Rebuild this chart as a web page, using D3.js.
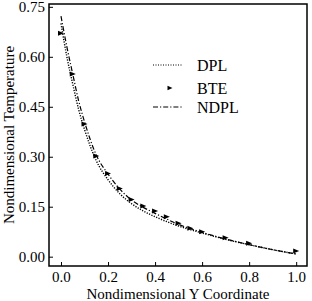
<!DOCTYPE html>
<html>
<head>
<meta charset="utf-8">
<script src="https://cdn.jsdelivr.net/npm/d3@7"></script>
<style>
body { margin: 0; background: #fff; }
text { font-family: "Liberation Serif", "Times New Roman", serif; fill: #000; }
</style>
</head>
<body>
<script>
// values
var xTicks = [0.0, 0.2, 0.4, 0.6, 0.8, 1.0];
var yTicks = [0.00, 0.15, 0.30, 0.45, 0.60, 0.75];

var curveX = [0, 0.025, 0.05, 0.075, 0.1, 0.15, 0.2, 0.25, 0.3, 0.35, 0.4, 0.5, 0.6, 0.7, 0.8, 0.9, 1.0];
var ndpl = [0.722, 0.630, 0.548, 0.468, 0.405, 0.305, 0.248, 0.203, 0.170, 0.148, 0.130, 0.097, 0.073, 0.053, 0.036, 0.021, 0.008];
var dpl = [0.700, 0.600, 0.518, 0.442, 0.382, 0.288, 0.231, 0.189, 0.159, 0.137, 0.120, 0.092, 0.071, 0.052, 0.036, 0.021, 0.008];

var bteX = [0, 0.05, 0.1, 0.15, 0.2, 0.25, 0.3, 0.35, 0.4, 0.45, 0.5, 0.55, 0.6, 0.7, 0.8, 1.0];
var bteY = [0.671, 0.548, 0.398, 0.302, 0.250, 0.205, 0.172, 0.152, 0.137, 0.120, 0.100, 0.085, 0.075, 0.057, 0.040, 0.017];

var legendNames = ["DPL", "BTE", "NDPL"];

var width = 312, height = 301;
var mLeft = 49, mRight = 307, mTop = 4, mBottom = 266;

var svg = d3.select("body")
    .append("svg")
    .attr("width", width)
    .attr("height", height);

var x = d3.scaleLinear().domain([-0.051, 1.046]).range([mLeft, mRight]);
var y = d3.scaleLinear().domain([-0.028, 0.7585]).range([mBottom, mTop]);

// axes with inward ticks
svg.append("g")
    .attr("transform", "translate(0," + mBottom + ")")
    .call(d3.axisBottom(x).tickValues(xTicks).tickFormat(d3.format(".1f")).tickSizeInner(-4).tickSizeOuter(0).tickPadding(5));

svg.append("g")
    .attr("transform", "translate(" + mLeft + ",0)")
    .call(d3.axisLeft(y).tickValues(yTicks).tickFormat(d3.format(".2f")).tickSizeInner(-4).tickSizeOuter(0).tickPadding(4));

svg.selectAll(".domain").remove();
svg.selectAll(".tick line").attr("stroke", "#000").attr("stroke-width", 1);
svg.selectAll(".tick text")
    .attr("font-family", "Liberation Serif")
    .attr("font-size", "15px")
    .attr("fill", "#000");

// frame
svg.append("rect")
    .attr("x", mLeft)
    .attr("y", mTop)
    .attr("width", mRight - mLeft)
    .attr("height", mBottom - mTop)
    .attr("fill", "none")
    .attr("stroke", "#000")
    .attr("stroke-width", 1.5);

var line = d3.line()
    .x(function(d) { return x(d[0]); })
    .y(function(d) { return y(d[1]); })
    .curve(d3.curveMonotoneX);

svg.append("path")
    .datum(d3.zip(curveX, dpl))
    .attr("d", line)
    .attr("fill", "none")
    .attr("stroke", "#000")
    .attr("stroke-width", 1.4)
    .attr("stroke-dasharray", "1.2,1.4");

svg.append("path")
    .datum(d3.zip(curveX, ndpl))
    .attr("d", line)
    .attr("fill", "none")
    .attr("stroke", "#000")
    .attr("stroke-width", 1.2)
    .attr("stroke-dasharray", "5,2,1.2,2");

var tri = "M-3,-2.5L3,0L-3,2.5Z";

svg.selectAll("path.bte")
    .data(d3.zip(bteX, bteY))
    .enter()
    .append("path")
    .attr("class", "bte")
    .attr("d", tri)
    .attr("transform", function(d) { return "translate(" + x(d[0]) + "," + y(d[1]) + ")"; })
    .attr("fill", "#000");

// legend
var legY = [65, 88, 107];
var lg = svg.append("g");
lg.append("line")
    .attr("x1", 153).attr("x2", 183).attr("y1", legY[0]).attr("y2", legY[0])
    .attr("stroke", "#000").attr("stroke-width", 1.2).attr("stroke-dasharray", "1,1.5");
lg.append("path")
    .attr("d", "M-2.5,-2.2L2.5,0L-2.5,2.2Z")
    .attr("transform", "translate(170," + legY[1] + ")")
    .attr("fill", "#000");
lg.append("line")
    .attr("x1", 153).attr("x2", 183).attr("y1", legY[2]).attr("y2", legY[2])
    .attr("stroke", "#000").attr("stroke-width", 1.2).attr("stroke-dasharray", "5,2,1.2,2");
lg.selectAll("text")
    .data(legendNames)
    .enter()
    .append("text")
    .attr("x", 197)
    .attr("y", function(d, i) { return legY[i]; })
    .attr("dy", "0.35em")
    .attr("font-size", "16px")
    .text(function(d) { return d; });

// axis titles
svg.append("text")
    .attr("x", (mLeft + mRight) / 2)
    .attr("y", 299)
    .attr("text-anchor", "middle")
    .attr("font-size", "15px")
    .text("Nondimensional Y Coordinate");

svg.append("text")
    .attr("transform", "translate(14," + (mTop + mBottom) / 2 + ") rotate(-90)")
    .attr("text-anchor", "middle")
    .attr("font-size", "15px")
    .text("Nondimensional Temperature");
</script>
</body>
</html>
